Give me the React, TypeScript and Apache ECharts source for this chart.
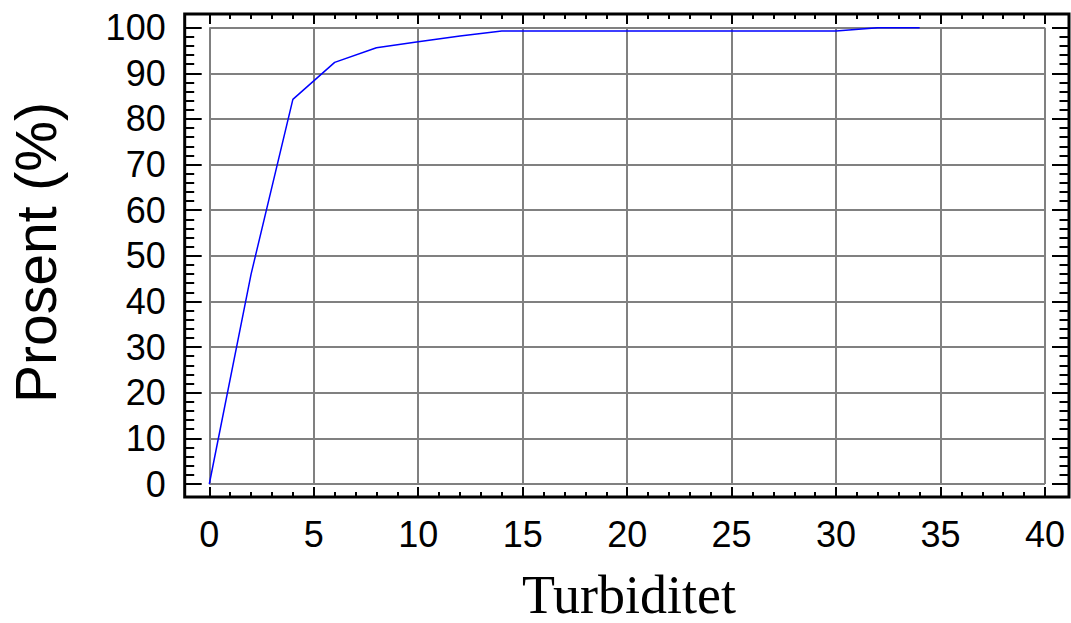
import React, { useEffect, useRef } from "react";
import * as echarts from "echarts";

const turbidity = [0, 2, 4, 6, 8, 10, 12, 14, 16, 18, 20, 22, 24, 26, 28, 30, 32, 34];
const percent = [0, 46, 84.3, 92.4, 95.6, 96.9, 98.2, 99.3, 99.3, 99.3, 99.3, 99.3, 99.3, 99.3, 99.3, 99.3, 100, 100];
const xLabel = "Turbiditet";
const yLabel = "Prosent (%)";

const SANS = "'Liberation Sans', Arial, sans-serif";
const SERIF = "'Liberation Serif', 'Times New Roman', serif";

export default function App() {
  const ref = useRef<HTMLDivElement>(null);
  useEffect(() => {
    if (!ref.current) return;
    const chart = echarts.init(ref.current, null, { renderer: "svg" });
    const tickStyle = { color: "#000", width: 2 };
    const gridLeft = 209.3, gridRight = 26, gridTop = 27.7, gridBottom = 139;
    const xAxisCommon = {
      type: "value" as const,
      min: 0,
      max: 40,
      interval: 5,
      axisLine: { show: false, onZero: false },
      axisTick: { show: true, inside: true, length: 10, lineStyle: tickStyle },
      minorTick: { show: true, splitNumber: 5, length: 5, lineStyle: tickStyle },
    };
    const yAxisCommon = {
      type: "value" as const,
      min: 0,
      max: 100,
      interval: 10,
      axisLine: { show: false, onZero: false },
      axisTick: { show: true, inside: true, length: 17, lineStyle: tickStyle },
      minorTick: { show: true, splitNumber: 5, length: 9.5, lineStyle: tickStyle },
    };
    chart.setOption({
      animation: false,
      backgroundColor: "#fff",
      grid: { left: gridLeft, right: gridRight, top: gridTop, bottom: gridBottom, containLabel: false },
      xAxis: [
        {
          ...xAxisCommon,
          position: "bottom",
          offset: 13,
          axisLabel: { show: true, color: "#000", fontFamily: SANS, fontSize: 36, margin: 19 },
          splitLine: { show: true, lineStyle: { color: "#808080", width: 2 } },
        },
        {
          ...xAxisCommon,
          position: "top",
          offset: 13.7,
          axisLabel: { show: false },
          splitLine: { show: false },
        },
      ],
      yAxis: [
        {
          ...yAxisCommon,
          position: "left",
          offset: 24.6,
          axisLabel: { show: true, color: "#000", fontFamily: SANS, fontSize: 36, margin: 19 },
          splitLine: { show: true, lineStyle: { color: "#808080", width: 2 } },
        },
        {
          ...yAxisCommon,
          position: "right",
          offset: 24,
          axisLabel: { show: false },
          splitLine: { show: false },
        },
      ],
      series: [
        {
          type: "line",
          xAxisIndex: 0,
          yAxisIndex: 0,
          data: turbidity.map((x, i) => [x, percent[i]]),
          showSymbol: false,
          symbol: "none",
          lineStyle: { color: "#0000ff", width: 1.5 },
          z: 5,
        },
      ],
      graphic: [
        {
          type: "rect",
          shape: { x: 184.7, y: 14, width: 1069 - 184.7, height: 497 - 14 },
          style: { fill: "none", stroke: "#000", lineWidth: 3 },
          z: 10,
          silent: true,
        },
        {
          type: "text",
          x: 36,
          y: 252.5,
          rotation: Math.PI / 2,
          style: {
            text: yLabel,
            fontFamily: SANS,
            fontSize: 57,
            fill: "#000",
            align: "center",
            verticalAlign: "middle",
          },
        },
        {
          type: "text",
          x: 629,
          y: 595,
          style: {
            text: xLabel,
            fontFamily: SERIF,
            fontSize: 54,
            fill: "#000",
            align: "center",
            verticalAlign: "middle",
          },
        },
      ],
    });
    return () => chart.dispose();
  }, []);
  return (
    <div
      ref={ref}
      style={{ position: "fixed", left: 0, top: 0, width: 1071, height: 623, background: "#fff" }}
    />
  );
}
